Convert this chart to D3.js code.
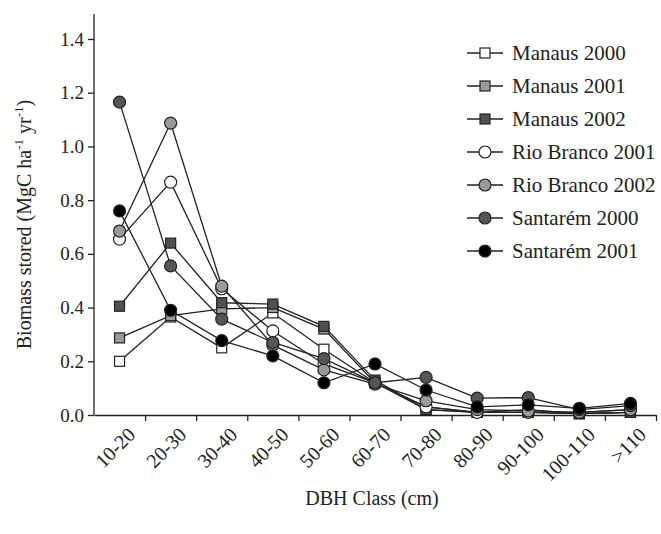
<!DOCTYPE html>
<html><head><meta charset="utf-8">
<script src="https://cdn.jsdelivr.net/npm/d3@7/dist/d3.min.js"></script>
<style>
body{margin:0;background:#fff;}
</style></head>
<body><svg id="c" width="661" height="534"></svg>
<script>
const categories = ["10-20","20-30","30-40","40-50","50-60","60-70","70-80","80-90","90-100","100-110",">110"];
const manaus2000    = [0.200,0.365,0.250,0.380,0.245,0.120,0.020,0.010,0.010,0.005,0.010];
const manaus2001    = [0.287,0.370,0.395,0.400,0.320,0.120,0.030,0.010,0.020,0.005,0.010];
const manaus2002    = [0.405,0.640,0.418,0.413,0.330,0.130,0.020,0.010,0.010,0.005,0.010];
const rioBranco2001 = [0.655,0.867,0.470,0.313,0.190,0.120,0.030,0.010,0.010,0.010,0.020];
const rioBranco2002 = [0.685,1.087,0.480,0.260,0.168,0.115,0.053,0.020,0.015,0.010,0.020];
const santarem2000  = [1.165,0.555,0.357,0.270,0.210,0.120,0.140,0.063,0.065,0.020,0.035];
const santarem2001  = [0.760,0.390,0.277,0.220,0.120,0.190,0.093,0.030,0.038,0.025,0.043];
const seriesNames = ["Manaus 2000","Manaus 2001","Manaus 2002","Rio Branco 2001","Rio Branco 2002","Santarém 2000","Santarém 2001"];
const yTicks = [0,0.2,0.4,0.6,0.8,1.0,1.2,1.4];

const series = [
  {name:seriesNames[0], values:manaus2000, shape:"square", fill:"#ffffff"},
  {name:seriesNames[1], values:manaus2001, shape:"square", fill:"#9a9a9a"},
  {name:seriesNames[2], values:manaus2002, shape:"square", fill:"#505050"},
  {name:seriesNames[3], values:rioBranco2001, shape:"circle", fill:"#ffffff"},
  {name:seriesNames[4], values:rioBranco2002, shape:"circle", fill:"#9a9a9a"},
  {name:seriesNames[5], values:santarem2000, shape:"circle", fill:"#555555"},
  {name:seriesNames[6], values:santarem2001, shape:"circle", fill:"#000000"}
];

const FONT = "'Liberation Serif', serif";
const svg = d3.select("#c");
const mLeft = 94, mRight = 656, mTop = 14, mBottom = 415;
const x = d3.scaleBand().domain(categories).range([mLeft,mRight]).paddingInner(0).paddingOuter(0);
const xb = d3.scaleLinear().domain([0,categories.length]).range([mLeft,mRight]);
const y = d3.scaleLinear().domain([0,1.4]).range([mBottom,39]);
const stroke = "#222";

// Y axis
const yAxis = svg.append("g").attr("transform",`translate(${mLeft},0)`)
  .call(d3.axisLeft(y).tickValues(yTicks).tickFormat(d3.format(".1f")).tickSize(6).tickSizeOuter(0));
yAxis.select(".domain").attr("d",`M0,${mBottom}V${mTop}`);
yAxis.selectAll("line,path").attr("stroke",stroke).attr("stroke-width",1.3);
yAxis.selectAll("text").style("font-family",FONT).attr("font-size",19).attr("x",-10).attr("fill","#222");

// X axis
const xAxis = svg.append("g").attr("transform",`translate(0,${mBottom})`)
  .call(d3.axisBottom(xb).tickValues(d3.range(1,categories.length+1)).tickFormat("").tickSize(6).tickSizeOuter(0));
xAxis.selectAll("line,path").attr("stroke",stroke).attr("stroke-width",1.3);

svg.append("g").selectAll("text").data(categories).join("text")
  .style("font-family",FONT).attr("fill","#222")
  .attr("transform",d=>`translate(${x(d)+x.bandwidth()/2+12},${mBottom+16}) rotate(-45)`)
  .attr("text-anchor","end").attr("dominant-baseline","central")
  .attr("font-size",20).text(d=>d);

// Axis titles
svg.append("text").style("font-family",FONT).attr("fill","#222").attr("x",372).attr("y",505).attr("text-anchor","middle")
  .attr("font-size",20).text("DBH Class (cm)");
const yt = svg.append("text").style("font-family",FONT).attr("fill","#222")
  .attr("transform",`translate(31,${(mBottom+mTop)/2+10}) rotate(-90)`)
  .attr("text-anchor","middle").attr("font-size",20);
yt.append("tspan").text("Biomass stored (MgC ha");
yt.append("tspan").attr("font-size",13).attr("dy",-8).text("-1");
yt.append("tspan").attr("dy",8).text(" yr");
yt.append("tspan").attr("font-size",13).attr("dy",-8).text("-1");
yt.append("tspan").attr("dy",8).text(")");

// Series
const line = d3.line().x((d,i)=>x(categories[i])+x.bandwidth()/2).y(d=>y(d));
function drawMarker(g, shape, fill, cx, cy){
  if(shape==="square"){
    g.append("rect").attr("x",cx-5).attr("y",cy-5).attr("width",10).attr("height",10)
      .attr("fill",fill).attr("stroke",stroke).attr("stroke-width",1.2);
  } else {
    g.append("circle").attr("cx",cx).attr("cy",cy).attr("r",6)
      .attr("fill",fill).attr("stroke",stroke).attr("stroke-width",1.2);
  }
}
const plot = svg.append("g");
series.forEach(s=>{
  const g = plot.append("g");
  g.append("path").datum(s.values).attr("d",line).attr("fill","none").attr("stroke",stroke).attr("stroke-width",1.3);
  s.values.forEach((v,i)=>drawMarker(g,s.shape,s.fill,x(categories[i])+x.bandwidth()/2,y(v)));
});

// Legend
const lg = svg.append("g");
series.forEach((s,i)=>{
  const ly = 53 + i*33;
  lg.append("line").attr("x1",467).attr("x2",503).attr("y1",ly).attr("y2",ly).attr("stroke",stroke).attr("stroke-width",1.3);
  drawMarker(lg,s.shape,s.fill,485,ly);
  lg.append("text").style("font-family",FONT).attr("fill","#222").attr("x",512).attr("y",ly)
    .attr("dominant-baseline","central").attr("font-size",21).text(s.name);
});
</script></body></html>
